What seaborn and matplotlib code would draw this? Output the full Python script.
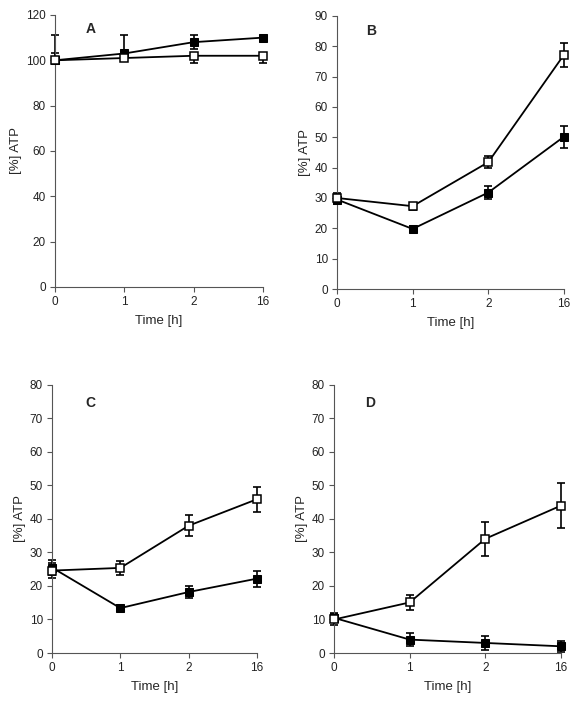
import matplotlib
matplotlib.use("Agg")
import matplotlib.pyplot as plt
import pandas as pd
import seaborn as sns

sns.set_style("ticks")
plt.rcParams['font.family'] = ['Liberation Sans', 'DejaVu Sans']

time_labels = ['0', '1', '2', '16']
panels = ['A', 'B', 'C', 'D']

# open squares
open_A = [100, 101, 102, 102]
open_A_lo = [0, 0, 3, 3]
open_A_hi = [3, 0, 0, 0]
open_B = [30, 27.3, 41.8, 77.2]
open_B_err = [1.6, 1.2, 2.0, 3.9]
open_C = [24.6, 25.4, 38, 45.9]
open_C_err = [2.3, 2.1, 3.1, 3.7]
open_D = [10.0, 15.1, 34.1, 44.0]
open_D_err = [1.5, 2.2, 5.1, 6.6]

# filled squares
fill_A = [100, 103, 108, 110]
fill_A_lo = [0, 0, 3, 0]
fill_A_hi = [11, 8, 3, 0]
fill_B = [29.5, 19.8, 31.8, 50.2]
fill_B_err = [1.5, 1.0, 2.1, 3.6]
fill_C = [25.5, 13.4, 18.2, 22.2]
fill_C_err = [2.3, 1.0, 1.9, 2.4]
fill_D = [10.5, 4.0, 3.0, 2.0]
fill_D_err = [1.3, 2.0, 2.0, 1.7]

ymax = {'A': 120, 'B': 90, 'C': 80, 'D': 80}
ystep = {'A': 20, 'B': 10, 'C': 10, 'D': 10}
series = {
    'A': (open_A, open_A_lo, open_A_hi, fill_A, fill_A_lo, fill_A_hi),
    'B': (open_B, open_B_err, open_B_err, fill_B, fill_B_err, fill_B_err),
    'C': (open_C, open_C_err, open_C_err, fill_C, fill_C_err, fill_C_err),
    'D': (open_D, open_D_err, open_D_err, fill_D, fill_D_err, fill_D_err),
}
boxes = {
    'A': [0.0953, 0.5912, 0.3605, 0.3875],
    'B': [0.5840, 0.5883, 0.3934, 0.3890],
    'C': [0.0901, 0.0698, 0.3553, 0.3818],
    'D': [0.5789, 0.0698, 0.3934, 0.3818],
}
letter_pos = {'A': (0.17, 0.95), 'B': (0.15, 0.945), 'C': (0.185, 0.933), 'D': (0.16, 0.933)}

fig = plt.figure(figsize=(5.77, 7.02), dpi=100)
pos = list(range(len(time_labels)))

for p in panels:
    ax = fig.add_axes(boxes[p])
    o, olo, ohi, f, flo, fhi = series[p]
    df = pd.DataFrame({'t': pos * 2, 'v': o + f,
                       'kind': ['open'] * 4 + ['filled'] * 4})
    ax.errorbar(pos, f, yerr=[flo, fhi], fmt='none', ecolor='black',
                elinewidth=1.2, capsize=3, capthick=1.2, zorder=2)
    ax.errorbar(pos, o, yerr=[olo, ohi], fmt='none', ecolor='black',
                elinewidth=1.2, capsize=3, capthick=1.2, zorder=2)
    sns.lineplot(data=df[df.kind == 'filled'], x='t', y='v', ax=ax,
                 color='black', lw=1.3, marker='s', markersize=6,
                 markerfacecolor='black', markeredgecolor='black', zorder=3)
    sns.lineplot(data=df[df.kind == 'open'], x='t', y='v', ax=ax,
                 color='black', lw=1.3, marker='s', markersize=6,
                 markerfacecolor='white', markeredgecolor='black',
                 markeredgewidth=1.1, zorder=4)
    ax.set_xlim(0, 3)
    ax.set_ylim(0, ymax[p])
    ax.set_xticks(pos)
    ax.set_xticklabels(time_labels)
    ax.set_yticks(range(0, ymax[p] + 1, ystep[p]))
    ax.tick_params(labelsize=8.5, length=3.5, width=0.8, colors='#555555',
                   labelcolor='#222222', pad=3)
    for s in ['top', 'right']:
        ax.spines[s].set_visible(False)
    for s in ['left', 'bottom']:
        ax.spines[s].set_color('#555555')
        ax.spines[s].set_linewidth(0.8)
    ax.set_xlabel('Time [h]', fontsize=9.5, labelpad=5)
    ax.set_ylabel('[%] ATP', fontsize=9.5, labelpad=3)
    ax.text(*letter_pos[p], p, transform=ax.transAxes, fontsize=10,
            fontweight='bold', ha='center', va='center')
    for ln in ax.lines:
        ln.set_clip_on(False)
    for c in ax.collections:
        c.set_clip_on(False)

fig.savefig('out.png', dpi=100)
